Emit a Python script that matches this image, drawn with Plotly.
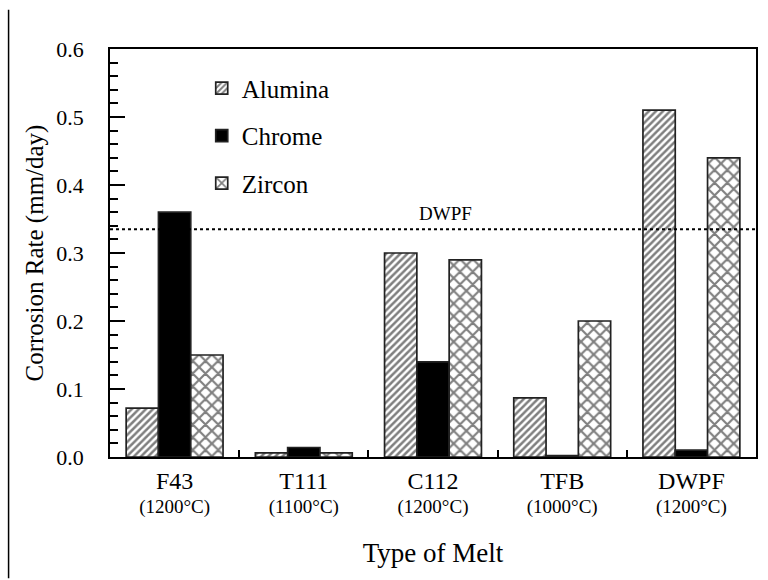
import plotly.graph_objects as go

# Melt types and their test temperatures
melts = ["F43", "T111", "C112", "TFB", "DWPF"]
temps = ["(1200°C)", "(1100°C)", "(1200°C)", "(1000°C)", "(1200°C)"]

# Corrosion rates (mm/day) for each refractory
alumina = [0.072, 0.006, 0.300, 0.087, 0.510]
chrome = [0.360, 0.014, 0.140, 0.002, 0.010]
zircon = [0.150, 0.006, 0.290, 0.200, 0.440]

# DWPF reference rate
dwpf_limit = 0.335

y_ticks = [0.0, 0.1, 0.2, 0.3, 0.4, 0.5, 0.6]

FONT = "Liberation Serif, Times New Roman, serif"
OUTLINE = dict(color="#222", width=1.7)

categories = [
    f"<span style='font-size:24px'>{m}</span><br>{t}" for m, t in zip(melts, temps)
]

fig = go.Figure()
fig.add_trace(go.Bar(
    name="Alumina", x=categories, y=alumina, legendgroup="a",
    marker=dict(color="white", line=OUTLINE,
                pattern=dict(shape="/", size=5, solidity=0.5,
                             fgcolor="black", bgcolor="white")),
))
fig.add_trace(go.Bar(
    name="Chrome", x=categories, y=chrome, legendgroup="c",
    marker=dict(color="black", line=OUTLINE),
))
fig.add_trace(go.Bar(
    name="Zircon", x=categories, y=zircon, legendgroup="z",
    marker=dict(color="white", line=OUTLINE,
                pattern=dict(shape="x", size=9, solidity=0.42,
                             fgcolor="black", bgcolor="white")),
))

# dotted DWPF reference line with its label
fig.add_shape(type="line", xref="paper", x0=0, x1=1, yref="y",
              y0=dwpf_limit, y1=dwpf_limit,
              line=dict(color="black", width=2, dash="dot"))
fig.add_annotation(x=categories[2], y=dwpf_limit, xshift=12, yshift=3,
                   text="DWPF", showarrow=False, yanchor="bottom",
                   font=dict(family=FONT, size=19, color="black"))

# page-edge rule on the left
fig.add_shape(type="line", xref="paper", yref="paper",
              x0=-0.157, x1=-0.157, y0=-0.297, y1=1.096,
              line=dict(color="black", width=1.5))

fig.update_layout(
    width=768, height=580,
    margin=dict(l=110, r=10, t=49, b=123),
    paper_bgcolor="white", plot_bgcolor="white",
    barmode="group", bargap=0.25, bargroupgap=0,
    font=dict(family=FONT, color="black", size=19),
    legend=dict(x=0.142, y=0.96, xanchor="left", yanchor="top",
                traceorder="grouped", tracegroupgap=12,
                font=dict(family=FONT, size=25, color="black"),
                bgcolor="rgba(0,0,0,0)"),
    xaxis=dict(
        title=dict(text="Type of Melt", standoff=26,
                   font=dict(family=FONT, size=27)),
        showline=True, linecolor="black", linewidth=1.7, mirror=True,
        ticks="inside", tickson="boundaries", ticklen=7, tickwidth=1.5,
        tickcolor="black", ticklabelstandoff=7,
        tickfont=dict(family=FONT, size=19), showgrid=False,
    ),
    yaxis=dict(
        title=dict(text="Corrosion Rate (mm/day)", standoff=6,
                   font=dict(family=FONT, size=25)),
        range=[0, 0.6], tickvals=y_ticks, tickformat=".1f",
        showline=True, linecolor="black", linewidth=1.7, mirror=True,
        ticks="inside", ticklen=15, tickwidth=1.5, tickcolor="black",
        ticklabelstandoff=20,
        minor=dict(dtick=0.02, ticks="inside", ticklen=8, tickwidth=1.5,
                   tickcolor="black", showgrid=False),
        tickfont=dict(family=FONT, size=22), showgrid=False, zeroline=False,
    ),
)

fig.write_html("out.html")
